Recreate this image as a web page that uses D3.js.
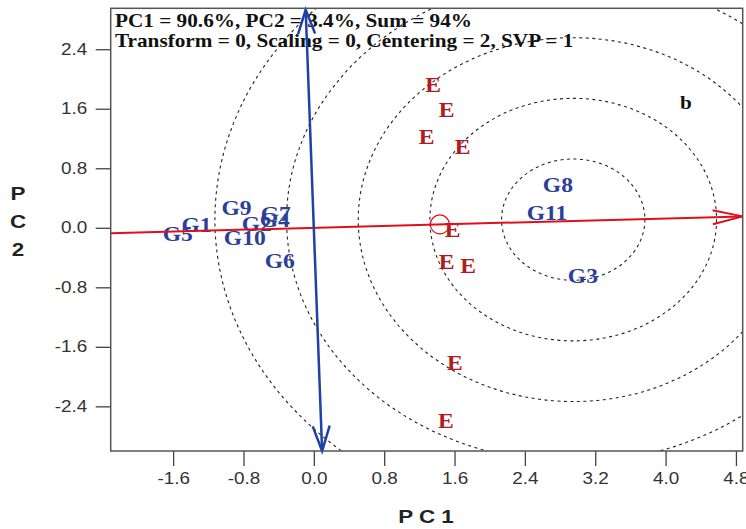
<!DOCTYPE html>
<html>
<head>
<meta charset="utf-8">
<script src="https://cdn.jsdelivr.net/npm/d3@7"></script>
<style>
  body { margin: 0; background: #fff; }
  svg { display: block; }
</style>
</head>
<body>
<svg width="746" height="529"></svg>
<script>
// genotype scores
const genotypes = ['G1', 'G2', 'G3', 'G4', 'G5', 'G6', 'G7', 'G8', 'G9', 'G10', 'G11']
const genoPC1 = [-1.334, -0.648, 3.06, -0.444, -1.547, -0.387, -0.432, 2.776, -0.879, -0.785, 2.651]
const genoPC2 = [0.038, 0.051, -0.66, 0.105, -0.083, -0.446, 0.185, 0.575, 0.262, -0.137, 0.199]
// environment scores (all labelled E)
const envPC1 = [1.357, 1.51, 1.282, 1.692, 1.578, 1.51, 1.755, 1.604, 1.502]
const envPC2 = [1.918, 1.582, 1.215, 1.081, -0.039, -0.469, -0.513, -1.82, -2.604]
// average environment and ideal genotype (circle centre)
const aveEnv = [1.433, 0.045]
const ideal = [2.95, 0.11]
const ringRadii = [0.815, 1.63, 2.445, 3.26, 4.075]
const xTicks = [-1.6, -0.8, 0.0, 0.8, 1.6, 2.4, 3.2, 4.0, 4.8]
const yTicks = [-2.4, -1.6, -0.8, 0.0, 0.8, 1.6, 2.4]
const infoLines = ['PC1 = 90.6%, PC2 = 3.4%, Sum = 94%', 'Transform = 0, Scaling = 0, Centering = 2, SVP = 1']

const sx = 1.18 // picture is stretched sideways
const svg = d3.select('svg')
const fLeft = 110.7, fRight = 742.7, fTop = 8.3, fBottom = 451
const fmt = function (d) { return d.toFixed(1) }

const x = d3.scaleLinear().domain([-2.31, 4.877]).range([fLeft, fRight])
const y = d3.scaleLinear().domain([-3.0, 2.95]).range([fBottom, fTop])

svg.append('clipPath').attr('id', 'frame')
  .append('rect').attr('x', fLeft).attr('y', fTop).attr('width', fRight - fLeft).attr('height', fBottom - fTop)

// axes
const xAxis = svg.append('g').attr('transform', 'translate(0,' + fBottom + ')')
  .call(d3.axisBottom(x).tickValues(xTicks).tickSize(15).tickPadding(7).tickFormat(fmt))
xAxis.select('.domain').remove()
xAxis.selectAll('line').attr('stroke', '#444').attr('stroke-width', 1.3)
xAxis.selectAll('text')
  .attr('fill', '#333').style('font', '16px "Liberation Sans", Arial, sans-serif')
  .attr('transform', 'scale(' + sx + ',1)')

const yAxis = svg.append('g').attr('transform', 'translate(' + fLeft + ',0)')
  .call(d3.axisLeft(y).tickValues(yTicks).tickSize(15).tickFormat(fmt))
yAxis.select('.domain').remove()
yAxis.selectAll('line').attr('stroke', '#444').attr('stroke-width', 1.3)
yAxis.selectAll('text')
  .attr('x', 0).attr('fill', '#333').style('font', '16px "Liberation Sans", Arial, sans-serif')
  .attr('transform', 'translate(-23.5,0) scale(' + sx + ',1)')

// axis titles
svg.append('text')
  .attr('transform', 'translate(426,523) scale(' + sx + ',1)')
  .attr('text-anchor', 'middle')
  .style('font', 'bold 19px "Liberation Sans", Arial, sans-serif').attr('fill', '#222')
  .text('P C 1')
const yTitle = ['P', 'C', '2']
yTitle.forEach(function (c, i) {
  svg.append('text')
    .attr('transform', 'translate(18,' + (200 + i * 28) + ') scale(' + sx + ',1)')
    .attr('text-anchor', 'middle')
    .style('font', 'bold 19px "Liberation Sans", Arial, sans-serif').attr('fill', '#222')
    .text(c)
})

// info text
infoLines.forEach(function (t, i) {
  svg.append('text')
    .attr('transform', 'translate(115,' + (26.7 + i * 20) + ') scale(' + sx + ',1)')
    .style('font', 'bold 18px "Liberation Serif", "Times New Roman", serif').attr('fill', '#111')
    .text(t)
})
svg.append('text')
  .attr('transform', 'translate(686,109) scale(' + sx + ',1)')
  .attr('text-anchor', 'middle')
  .style('font', 'bold 18px "Liberation Serif", "Times New Roman", serif').attr('fill', '#111')
  .text('b')

const plot = svg.append('g').attr('clip-path', 'url(#frame)')

// concentric rings round the ideal genotype
plot.selectAll('ellipse.ring')
  .data(ringRadii)
  .enter().append('ellipse')
    .attr('class', 'ring')
    .attr('cx', x(ideal[0])).attr('cy', y(ideal[1]))
    .attr('rx', function (r) { return x(r) - x(0) })
    .attr('ry', function (r) { return y(0) - y(r) })
    .attr('fill', 'none').attr('stroke', '#222').attr('stroke-width', 1.1)
    .attr('stroke-dasharray', '3,3.5')

// labels
const labelFont = 'bold 20px "Liberation Serif", "Times New Roman", serif'
plot.selectAll('text.geno')
  .data(genotypes)
  .enter().append('text')
    .attr('class', 'geno')
    .attr('transform', function (d, i) { return 'translate(' + x(genoPC1[i]) + ',' + y(genoPC2[i]) + ') scale(' + sx + ',1)' })
    .attr('text-anchor', 'middle').attr('dy', '0.33em')
    .style('font', labelFont).attr('fill', '#2b3f99')
    .text(function (d) { return d })

plot.selectAll('text.env')
  .data(envPC1)
  .enter().append('text')
    .attr('class', 'env')
    .attr('transform', function (d, i) { return 'translate(' + x(d) + ',' + y(envPC2[i]) + ') scale(' + sx + ',1)' })
    .attr('text-anchor', 'middle').attr('dy', '0.33em')
    .style('font', labelFont).attr('fill', '#b01c1c')
    .text('E')

// average environment axis
const s = aveEnv[1] / aveEnv[0]
const x0 = x.domain()[0], x1 = x.domain()[1]
const red = '#e0101a'
const blue = '#2141a5'
plot.append('line')
  .attr('x1', x(x0)).attr('y1', y(s * x0)).attr('x2', x(x1)).attr('y2', y(s * x1))
  .attr('stroke', red).attr('stroke-width', 2)

function arrowHead (g, px, py, ang, len, half, col, w) {
  const ca = Math.cos(ang), sa = Math.sin(ang)
  const bx = px - ca * len, by = py - sa * len
  g.append('path')
    .attr('d', 'M' + (bx - sa * half) + ',' + (by + ca * half) + 'L' + px + ',' + py + 'L' + (bx + sa * half) + ',' + (by - ca * half))
    .attr('fill', 'none').attr('stroke', col).attr('stroke-width', w)
}
const redAng = Math.atan2(y(s * x1) - y(s * x0), x(x1) - x(x0))
arrowHead(svg, x(x1), y(s * x1), redAng, 30, 7, red, 2)

// perpendicular axis through origin
const y0 = y.domain()[0], y1 = y.domain()[1]
const bTop = [x(-s * y1), y(y1) + 1.5]
const bBot = [x(-s * y0), y(y0)]
plot.append('line')
  .attr('x1', bTop[0]).attr('y1', bTop[1]).attr('x2', bBot[0]).attr('y2', bBot[1])
  .attr('stroke', blue).attr('stroke-width', 2.5)
const blueAng = Math.atan2(bBot[1] - bTop[1], bBot[0] - bTop[0])
arrowHead(svg, bBot[0], bBot[1], blueAng, 25, 8.5, blue, 2.5)
arrowHead(svg, bTop[0], bTop[1], blueAng + Math.PI, 24, 8.5, blue, 2.5)

// average environment marker
plot.append('circle')
  .attr('cx', x(aveEnv[0])).attr('cy', y(aveEnv[1])).attr('r', 9.5)
  .attr('fill', 'none').attr('stroke', red).attr('stroke-width', 1.2)

// frame
svg.append('rect')
  .attr('x', fLeft).attr('y', fTop).attr('width', fRight - fLeft).attr('height', fBottom - fTop)
  .attr('fill', 'none').attr('stroke', '#555').attr('stroke-width', 1.5)
</script>
</body>
</html>
